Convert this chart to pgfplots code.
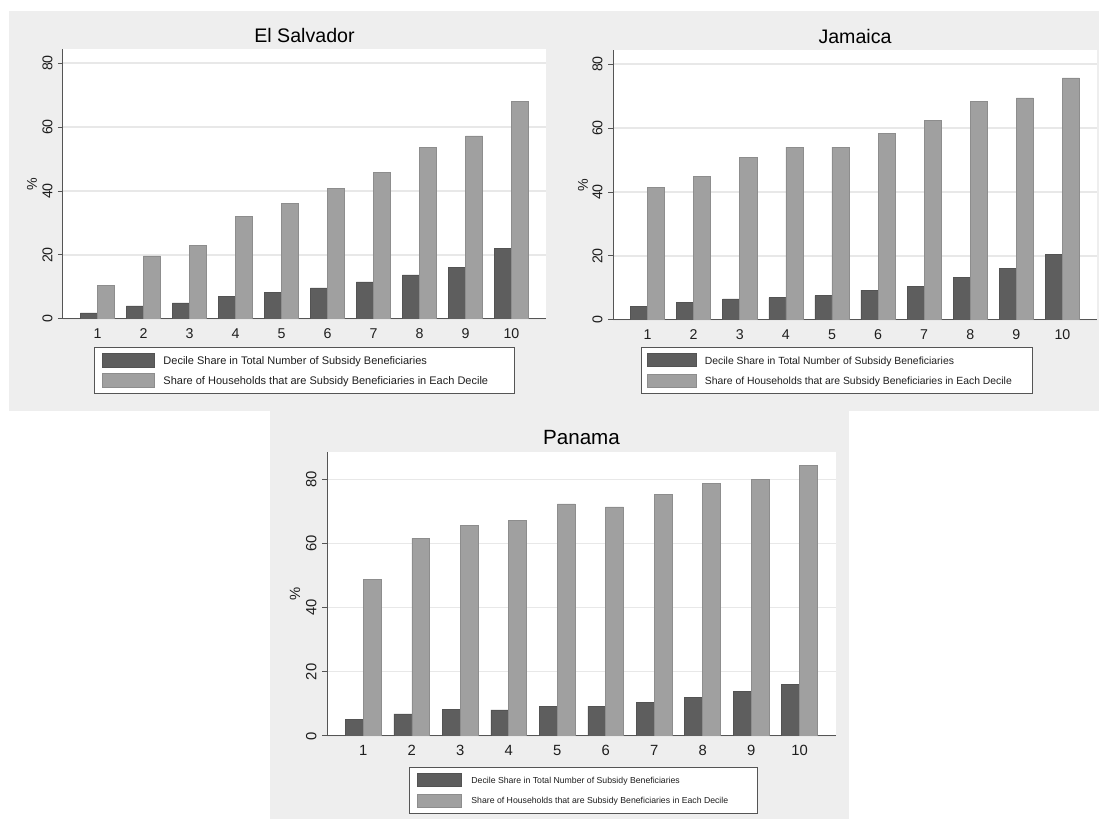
\documentclass[border=0pt]{standalone}
\usepackage{fontspec}
\setmainfont{Liberation Sans}
\usepackage{pgfplots}
\usepackage{pgfplotstable}
\pgfplotsset{compat=1.18}

\definecolor{panelbg}{HTML}{EEEEEE}
\definecolor{bardark}{HTML}{5E5E5E}
\definecolor{barlight}{HTML}{A0A0A0}
\definecolor{gridc}{HTML}{E8E8E8}
\definecolor{axisc}{HTML}{555555}
\definecolor{textc}{HTML}{1E1E1E}

% decile, share of all beneficiaries (%), share of households benefiting (%)
\pgfplotstableread{
decile share households
1   1.9  10.4
2   4.1  19.7
3   5.0  23.1
4   7.0  32.0
5   8.4  36.1
6   9.7  40.8
7  11.6  45.8
8  13.8  53.7
9  16.2  57.2
10 22.1  67.9
}\elsalvador

\pgfplotstableread{
decile share households
1   4.3  41.5
2   5.4  44.8
3   6.6  50.7
4   7.0  54.0
5   7.6  54.0
6   9.3  58.4
7  10.5  62.4
8  13.2  68.4
9  16.0  69.4
10 20.5  75.7
}\jamaica

\pgfplotstableread{
decile share households
1   5.2  48.7
2   6.9  61.6
3   8.3  65.7
4   8.1  67.2
5   9.2  72.3
6   9.3  71.4
7  10.5  75.2
8  11.9  78.6
9  13.9  80.0
10 16.0  84.2
}\panama

\newdimen\keyw
\newdimen\keyh

\pgfplotsset{
  decile/.style={
    scale only axis, anchor=south west,
    xmin=0.25, xmax=10.75, ymin=0,
    axis lines=left,
    axis line style={-, draw=axisc, line width=0.5pt},
    axis background/.style={fill=white},
    xtick={1,...,10}, ytick={0,20,40,60,80},
    ymajorgrids, grid style={draw=gridc, line width=0.6pt},
    tick align=outside, major tick length=2.5pt,
    xtick style={draw=none},
    ytick style={draw=axisc, line width=0.5pt},
    /pgf/number format/assume math mode=true,
    tick label style={font=\fontsize{7.1}{8}\selectfont, text=textc},
    yticklabel style={rotate=90, anchor=south, inner xsep=0pt, inner ysep=2.5pt},
    xticklabel style={anchor=north, inner xsep=0pt, inner ysep=2pt,
      text height=5.1pt, text depth=0pt},
    ylabel={\%},
    ylabel style={at={(axis description cs:-0.064,0.5)}, anchor=center,
      font=\fontsize{7.1}{8}\selectfont, text=textc},
    title style={at={(axis description cs:0.5,1)}, anchor=base, yshift=-3pt,
      font=\fontsize{9.8}{11}\selectfont, text=black},
    legend cell align=left,
  },
  keyimage/.style={
    legend image code/.code={
      \draw[##1, line width=0.3pt] (0pt,-0.5\keyh) rectangle (\keyw,0.5\keyh);}
  },
  darkbar/.style={ybar, bar width=0.37, bar shift=-0.185,
    fill=bardark, draw=bardark!88!black, line width=0.3pt, keyimage},
  lightbar/.style={ybar, bar width=0.37, bar shift=0.185,
    fill=barlight, draw=barlight!88!black, line width=0.3pt, keyimage},
}

\begin{document}
\begin{tikzpicture}
% panel backgrounds
\fill[white] (0pt,0pt) rectangle (549.5pt,411pt);
\fill[panelbg] (4.5pt,205.5pt) rectangle (549.5pt,405.5pt);
\fill[panelbg] (135pt,1.5pt) rectangle (424.5pt,205.5pt);

% El Salvador
\keyw=26pt \keyh=7pt
\begin{axis}[decile,
  at={(31.5pt,251.5pt)}, width=241.5pt, height=135pt, ymax=84.4,
  title={El Salvador},
  legend style={at={(axis description cs:0.5,-0.1037)}, anchor=north,
    draw=axisc, line width=0.5pt, fill=white,
    inner xsep=3.5pt, inner ysep=3pt, row sep=2.5pt, column sep=4.5pt,
    nodes={inner sep=0pt, text depth=0pt},
    font=\fontsize{5.5}{6.6}\selectfont, text=textc},
]
\addplot[darkbar] table[x=decile, y=share] {\elsalvador};
\addlegendentry{Decile Share in Total Number of Subsidy Beneficiaries}
\addplot[lightbar] table[x=decile, y=households] {\elsalvador};
\addlegendentry{Share of Households that are Subsidy Beneficiaries in Each Decile\hspace*{9.5pt}}
\end{axis}

% Jamaica
\keyw=24.5pt \keyh=6.5pt
\begin{axis}[decile,
  at={(306.5pt,251pt)}, width=242pt, height=135pt, ymax=84.4,
  title={Jamaica},
  ylabel style={at={(axis description cs:-0.062,0.5)}},
  legend style={at={(axis description cs:0.463,-0.1)}, anchor=north,
    draw=axisc, line width=0.5pt, fill=white,
    inner xsep=3pt, inner ysep=3pt, row sep=3.3pt, column sep=4pt,
    nodes={inner sep=0pt, text depth=0pt},
    font=\fontsize{5.2}{6.2}\selectfont, text=textc},
]
\addplot[darkbar] table[x=decile, y=share] {\jamaica};
\addlegendentry{Decile Share in Total Number of Subsidy Beneficiaries}
\addplot[lightbar] table[x=decile, y=households] {\jamaica};
\addlegendentry{Share of Households that are Subsidy Beneficiaries in Each Decile\hspace*{7.5pt}}
\end{axis}

% Panama
\keyw=22pt \keyh=6.5pt
\begin{axis}[decile,
  at={(163.5pt,43pt)}, width=254.5pt, height=142pt, ymax=88.5,
  title={Panama},
  title style={font=\fontsize{10.3}{12}\selectfont, yshift=0.5pt},
  tick label style={font=\fontsize{7.4}{8.5}\selectfont},
  xticklabel style={text height=5.3pt},
  ylabel style={at={(axis description cs:-0.063,0.5)}, font=\fontsize{7.4}{8.5}\selectfont},
  legend style={at={(axis description cs:0.504,-0.109)}, anchor=north,
    draw=axisc, line width=0.5pt, fill=white,
    inner xsep=3.5pt, inner ysep=3pt, row sep=3.5pt, column sep=5pt,
    nodes={inner sep=0pt, text depth=0pt},
    font=\fontsize{4.35}{5.2}\selectfont, text=textc},
]
\addplot[darkbar] table[x=decile, y=share] {\panama};
\addlegendentry{Decile Share in Total Number of Subsidy Beneficiaries}
\addplot[lightbar] table[x=decile, y=households] {\panama};
\addlegendentry{Share of Households that are Subsidy Beneficiaries in Each Decile\hspace*{11pt}}
\end{axis}

\pgfresetboundingbox
\path (0pt,0pt) rectangle (549.5pt,411pt);
\end{tikzpicture}
\end{document}
